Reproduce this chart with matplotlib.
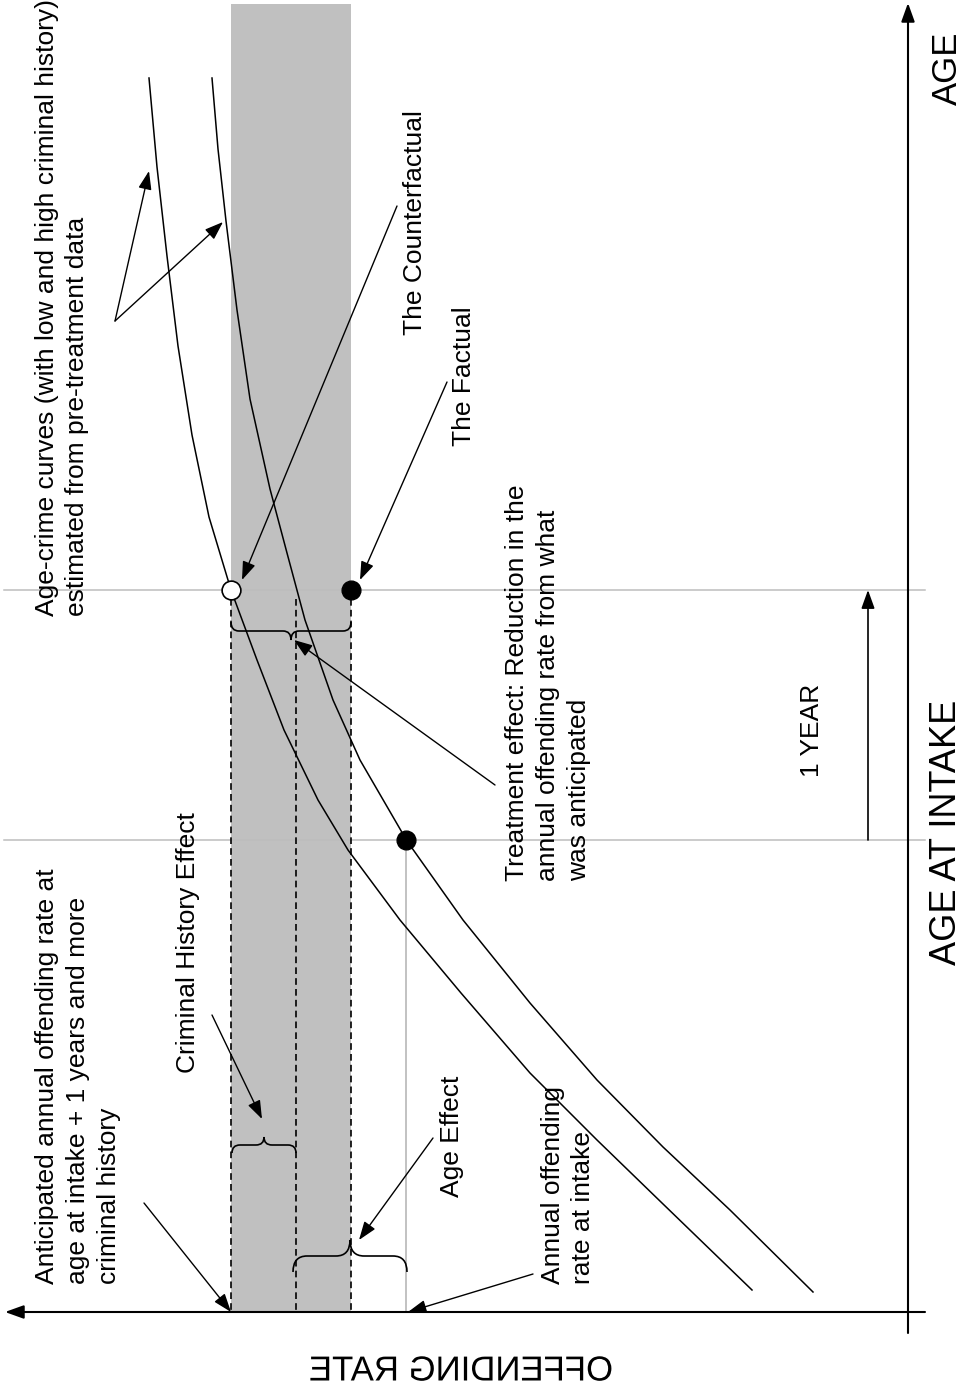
"""
Diagrama (rotacionado) do efeito de tratamento sobre a curva idade-crime.
Coordenadas em pixels da figura: x = taxa de infração (cresce para a esquerda),
y = idade (cresce para cima).
"""

import matplotlib
matplotlib.use("Agg")
import matplotlib.pyplot as plt
from matplotlib.path import Path
from matplotlib.patches import PathPatch
from matplotlib.transforms import Affine2D
from matplotlib import patheffects

plt.rcParams["font.family"] = ["Liberation Sans", "DejaVu Sans"]

# --- Curvas idade-crime ---
high_x = [149, 157, 167, 178, 192, 209, 231, 257, 284, 318, 348, 400, 461,
          530, 597, 662, 752]
high_y = [78, 167, 256, 346, 435, 517, 590, 660, 730, 800, 850, 920, 993,
          1073, 1140, 1203, 1290]
low_x = [212, 218, 226, 237, 250, 270, 287, 305, 333, 360, 407, 463, 530,
         597, 663, 730, 813]
low_y = [78, 149, 221, 310, 399, 489, 553, 620, 700, 760, 841, 920, 1003,
         1080, 1147, 1210, 1292]

# --- Níveis de taxa (x) e idades (y) ---
rate_anticipated = 231
rate_low_next = 296
rate_factual = 351
rate_intake = 406
age_intake = 840
age_next = 590
axis_rate_y = 1312
axis_age_x = 908

GRAY = "#c0c0c0"
LINE_GRAY = "#bdbdbd"
FS = 19
FS_BIG = 25


class Mirror(patheffects.AbstractPathEffect):
    """Espelha o texto horizontalmente (o rótulo original está espelhado)."""

    def draw_path(self, renderer, gc, tpath, affine, rgbFace=None):
        verts = tpath.vertices
        if tpath.codes is not None:
            verts = verts[tpath.codes != Path.CLOSEPOLY]
        mid = verts[:, 0].min() + verts[:, 0].max()
        flip = Affine2D().scale(-1, 1).translate(mid, 0)
        renderer.draw_path(gc, tpath, flip + affine, rgbFace)


def arrow(ax, tail, head, lw=1.0):
    ax.annotate(
        "", xy=head, xytext=tail,
        arrowprops=dict(
            arrowstyle="-|>,head_length=0.75,head_width=0.27",
            mutation_scale=15, lw=lw, color="black",
            shrinkA=0, shrinkB=0,
        ),
        zorder=6,
    )


def brace(ax, x0, x1, y_end, y_line, y_tip, r=8):
    """Chave horizontal: pontas em y_end, traço em y_line, bico em y_tip."""
    xm = (x0 + x1) / 2
    verts = [
        (x0, y_end), (x0, y_line), (x0 + r, y_line),
        (xm - r, y_line),
        (xm, y_line), (xm, y_tip),
        (xm, y_line), (xm + r, y_line),
        (x1 - r, y_line),
        (x1, y_line), (x1, y_end),
    ]
    codes = [
        Path.MOVETO, Path.CURVE3, Path.CURVE3,
        Path.LINETO,
        Path.CURVE3, Path.CURVE3,
        Path.CURVE3, Path.CURVE3,
        Path.LINETO,
        Path.CURVE3, Path.CURVE3,
    ]
    ax.add_patch(PathPatch(Path(verts, codes), fill=False, lw=1.2,
                           color="black", zorder=5))


def label(ax, x, y, s, fs=FS, **kw):
    ax.text(x, y, s, rotation=90, fontsize=fs, ha="center", va="bottom",
            multialignment="left", linespacing=1.36, **kw)


fig = plt.figure(figsize=(9.64, 13.91), dpi=100)
ax = fig.add_axes([0, 0, 1, 1])
ax.set_xlim(0, 964)
ax.set_ylim(1391, 0)
ax.axis("off")

# --- Faixa cinza e linhas de referência ---
ax.fill_betweenx([4, axis_rate_y], rate_anticipated, rate_factual,
                 color=GRAY, lw=0, zorder=0)
for age in (age_next, age_intake):
    ax.plot([4, 925], [age, age], color=LINE_GRAY, lw=1.1, zorder=1)
ax.plot([rate_intake, rate_intake], [age_intake, axis_rate_y],
        color=LINE_GRAY, lw=1.3, zorder=1)
for rx in (rate_anticipated, rate_low_next, rate_factual):
    ax.plot([rx, rx], [age_next + 9, axis_rate_y], color="black", lw=1.2,
            ls=(0, (4, 2.5)), zorder=2)

# --- Curvas ---
ax.plot(high_x, high_y, color="black", lw=1.1, zorder=3)
ax.plot(low_x, low_y, color="black", lw=1.1, zorder=3)

# --- Eixos ---
arrow(ax, (axis_age_x, 1333), (axis_age_x, 3), lw=1.5)
arrow(ax, (925, axis_rate_y), (5, axis_rate_y), lw=1.5)

# --- Pontos ---
ax.plot(rate_anticipated, age_next, "o", ms=13.5, mfc="white", mec="black",
        mew=1.2, zorder=7)
ax.plot(rate_factual, age_next, "o", ms=13.5, color="black", zorder=7)
ax.plot(rate_intake, age_intake, "o", ms=13.5, color="black", zorder=7)

# --- Chaves ---
brace(ax, rate_anticipated, rate_factual, 622, 631, 640)
brace(ax, rate_anticipated + 1, rate_low_next, 1153, 1145, 1137)
brace(ax, rate_low_next - 3, rate_intake + 1, 1272, 1256, 1240, r=14)

# --- Setas das anotações ---
arrow(ax, (115, 321), (149, 171))
arrow(ax, (115, 321), (223, 222))
arrow(ax, (397, 206), (242, 580))
arrow(ax, (447, 382), (360, 580))
arrow(ax, (495, 785), (294, 640))
arrow(ax, (212, 1015), (262, 1119))
arrow(ax, (433, 1138), (359, 1240))
arrow(ax, (144, 1203), (231, axis_rate_y))
arrow(ax, (533, 1274), (408, axis_rate_y))
arrow(ax, (868, age_intake), (868, age_next), lw=1.2)

# --- Textos ---
label(ax, 62, 616, "Age-crime curves (with low and high criminal history)\n"
                   "estimated from pre-treatment data")
label(ax, 415, 335, "The Counterfactual")
label(ax, 464, 446, "The Factual")
label(ax, 548, 881, "Treatment effect: Reduction in the\n"
                    "annual offending rate from what\n"
                    "was anticipated")
label(ax, 812, 777, "1 YEAR")
label(ax, 188, 1073, "Criminal History Effect")
label(ax, 452, 1197, "Age Effect")
label(ax, 78, 1284, "Anticipated annual offending rate at\n"
                    "age at intake + 1 years and more\n"
                    "criminal history")
label(ax, 568, 1284, "Annual offending\nrate at intake")
ax.text(946, 832, "AGE AT INTAKE", rotation=90, fontsize=26,
        ha="center", va="center")
ax.text(947, 68, "AGE", rotation=90, fontsize=FS_BIG, ha="center",
        va="center")
ax.text(461, 1371, "OFFENDING RATE", fontsize=FS_BIG, ha="center",
        va="center", path_effects=[Mirror()])

fig.savefig("out.png", dpi=100)
plt.close(fig)
